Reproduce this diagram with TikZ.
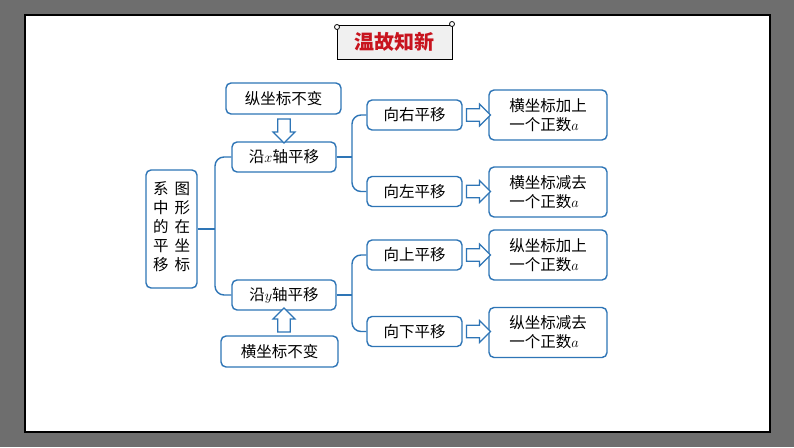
\documentclass[tikz,border=0pt]{standalone}
\usepackage{fontspec}
\setmainfont{Liberation Serif}
\newfontfamily\cjk{Noto Sans CJK SC}
\usetikzlibrary{shapes.arrows,positioning,calc}
\definecolor{mapblue}{RGB}{46,117,182}
\definecolor{titlered}{RGB}{200,20,30}
\definecolor{slidegray}{RGB}{110,110,110}
\tikzset{
  mapbox/.style={draw=mapblue, line width=1.4pt, rounded corners=5pt, fill=white,
    font=\cjk\fontsize{15.5}{19}\selectfont, inner sep=3pt},
  hollowarrow/.style={single arrow, draw=mapblue, line width=1.2pt, fill=white,
    minimum height=24pt, minimum width=22pt, single arrow head extend=4pt, inner sep=4.5pt},
  brace/.style={draw=mapblue, line width=1.4pt, rounded corners=9pt}
}
\begin{document}
\begin{tikzpicture}[x=1pt,y=-1pt]
  % slide frame
  \fill[slidegray] (0,0) rectangle (794,447);
  \draw[black, line width=1.2pt, fill=white] (25,15) rectangle (770,432);
  \useasboundingbox (0,0) rectangle (794,447);

  % title scroll
  \draw[black, line width=1pt, fill=gray!12] (337,25) rectangle (452,59);
  \draw[black, fill=white, line width=0.8pt] (337,27) circle (2.5pt) (452,24) circle (2.5pt);
  \node[text=titlered, font=\cjk\fontsize{20}{24}\selectfont\bfseries] (title) at (394.5,42) {温故知新};

  % main nodes
  \node[mapbox, minimum width=51pt, minimum height=118pt, align=center] (root) at (171.5,229)
    {\begin{tabular}{@{}c@{\hspace{6pt}}c@{}}系&图\\中&形\\的&在\\平&坐\\移&标\end{tabular}};
  \node[mapbox, minimum width=104pt, minimum height=30pt] (xmove) at (284,157) {沿$x$轴平移};
  \node[mapbox, minimum width=104pt, minimum height=30pt] (ymove) at (284,295) {沿$y$轴平移};
  \node[mapbox, minimum width=115pt, minimum height=31pt] (ykeep) at (283.5,98.5) {纵坐标不变};
  \node[mapbox, minimum width=117pt, minimum height=31pt] (xkeep) at (279.5,351.5) {横坐标不变};

  \node[mapbox, minimum width=95pt, minimum height=30pt] (right) at (414.5,115) {向右平移};
  \node[mapbox, minimum width=95pt, minimum height=30pt] (left) at (414.5,191.5) {向左平移};
  \node[mapbox, minimum width=95pt, minimum height=30pt] (up) at (414.5,255) {向上平移};
  \node[mapbox, minimum width=95pt, minimum height=30pt] (down) at (414.5,331.5) {向下平移};

  \node[mapbox, minimum width=118pt, minimum height=50pt, align=left] (rres) at (548,115) {横坐标加上\\一个正数$a$};
  \node[mapbox, minimum width=118pt, minimum height=50pt, align=left] (lres) at (548,192) {横坐标减去\\一个正数$a$};
  \node[mapbox, minimum width=118pt, minimum height=50pt, align=left] (ures) at (548,255) {纵坐标加上\\一个正数$a$};
  \node[mapbox, minimum width=118pt, minimum height=50pt, align=left] (dres) at (548,332.5) {纵坐标减去\\一个正数$a$};

  % hollow arrows
  \node[hollowarrow, shape border rotate=270, minimum height=24pt] (a1) at (284,128) {};
  \node[hollowarrow, shape border rotate=90, minimum height=24pt] (a2) at (284,323) {};
  \foreach \src/\dst in {right/rres, left/lres, up/ures, down/dres} {
    \node[hollowarrow, minimum height=24pt] at ($(\src.east)!0.5!(\dst.west |- \src.east)$) {};
  }

  % braces
  \coordinate (b0) at (215,229);
  \draw[brace] (xmove.west) -| (b0) |- (ymove.west);
  \draw[brace] (root.east) -- (b0);
  \coordinate (b1) at (352,157);
  \draw[brace] (right.west) -| (b1) |- (left.west);
  \draw[brace] (xmove.east) -- (b1);
  \coordinate (b2) at (352,295);
  \draw[brace] (up.west) -| (b2) |- (down.west);
  \draw[brace] (ymove.east) -- (b2);
\end{tikzpicture}
\end{document}
